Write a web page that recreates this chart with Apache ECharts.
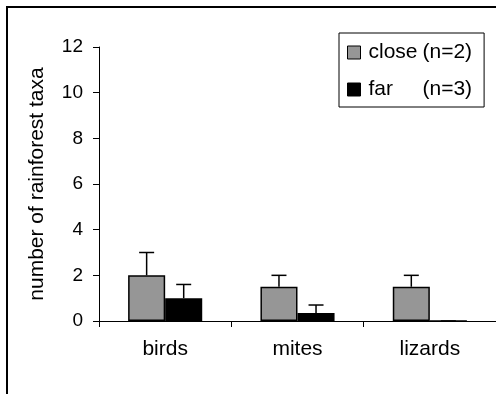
<!DOCTYPE html>
<html>
<head>
<meta charset="utf-8">
<script src="https://cdn.jsdelivr.net/npm/echarts@6/dist/echarts.min.js"></script>
<style>
html,body{margin:0;padding:0;background:#fff;}
#chart{width:496px;height:394px;}
</style>
</head>
<body>
<div id="chart"></div>
<script>
const categories = ['birds', 'mites', 'lizards'];
const closeValues = [2, 1.5, 1.5];
const closeErrors = [1, 0.5, 0.5];
const farValues = [1, 0.35, 0];
const farErrors = [0.6, 0.35, 0];
const seriesNames = ['close', 'far'];
const seriesN = ['(n=2)', '(n=3)'];
const yTicks = [0, 2, 4, 6, 8, 10, 12];

const FONT = 'Liberation Sans, Arial, sans-serif';
const BAR_W = 0.28; // fraction of category band

function errSeries(values, errors, side) {
  return {
    type: 'custom',
    silent: true,
    z: 1,
    data: values.map((v, i) => [i, v, errors[i]]),
    encode: { x: 0, y: 1 },
    renderItem: function (params, api) {
      const ci = api.value(0);
      const v = api.value(1);
      const e = api.value(2);
      const band = api.size([1, 0])[0];
      const base = api.coord([ci, v]);
      const top = api.coord([ci, v + e]);
      const x = base[0] + side * band * BAR_W / 2;
      const capHalf = 7.5;
      const style = { stroke: '#000', lineWidth: 1.5 };
      return {
        type: 'group',
        children: [
          { type: 'line', shape: { x1: x, y1: base[1], x2: x, y2: top[1] }, style: style },
          { type: 'line', shape: { x1: x - capHalf, y1: top[1], x2: x + capHalf, y2: top[1] }, style: style }
        ]
      };
    }
  };
}

const chart = echarts.init(document.getElementById('chart'), null, { renderer: 'canvas' });
chart.setOption({
  animation: false,
  backgroundColor: '#fff',
  textStyle: { fontFamily: FONT },
  graphic: [{
    type: 'rect',
    shape: { x: 7, y: 7, width: 540, height: 440 },
    style: { fill: 'none', stroke: '#000', lineWidth: 2 },
    silent: true
  }],
  grid: { left: 99, top: 47, right: -8, bottom: 73, containLabel: false },
  legend: {
    orient: 'vertical',
    left: 339,
    top: 33,
    padding: [9, 12, 7, 8],
    itemGap: 16,
    itemWidth: 13,
    itemHeight: 13,
    icon: 'rect',
    borderColor: '#000',
    borderWidth: 1,
    data: seriesNames.map((n, i) => ({
      name: n,
      itemStyle: { color: i === 0 ? '#969696' : '#000', borderColor: '#000', borderWidth: 1 }
    })),
    formatter: function (name) {
      const i = seriesNames.indexOf(name);
      return '{a|' + name + '}{b|' + seriesN[i] + '}';
    },
    textStyle: {
      fontFamily: FONT,
      rich: {
        a: { width: 54, fontSize: 21, lineHeight: 22, color: '#000', padding: [0, 0, 0, 3], fontFamily: FONT },
        b: { fontSize: 21, lineHeight: 22, color: '#000', fontFamily: FONT }
      }
    }
  },
  xAxis: {
    type: 'category',
    data: categories,
    axisLine: { lineStyle: { color: '#000', width: 1 } },
    axisTick: { show: true, length: 6, inside: false, alignWithLabel: false, lineStyle: { color: '#000' } },
    axisLabel: { color: '#000', fontSize: 21, margin: 18, fontFamily: FONT },
    splitLine: { show: false }
  },
  yAxis: {
    type: 'value',
    min: yTicks[0],
    max: yTicks[yTicks.length - 1],
    interval: yTicks[1] - yTicks[0],
    name: 'number of rainforest taxa',
    nameLocation: 'middle',
    nameGap: 51,
    nameTextStyle: { color: '#000', fontSize: 21, fontFamily: FONT },
    axisLine: { show: true, lineStyle: { color: '#000', width: 1 } },
    axisTick: { show: true, length: 6, lineStyle: { color: '#000' } },
    axisLabel: { color: '#000', fontSize: 19, margin: 16, fontFamily: FONT },
    splitLine: { show: false }
  },
  series: [
    {
      name: seriesNames[0],
      type: 'bar',
      data: closeValues,
      barWidth: (BAR_W * 100) + '%',
      barGap: '0%',
      z: 2,
      itemStyle: { color: '#969696', borderColor: '#000', borderWidth: 1.5 }
    },
    {
      name: seriesNames[1],
      type: 'bar',
      data: farValues,
      barWidth: (BAR_W * 100) + '%',
      barGap: '0%',
      z: 2,
      itemStyle: { color: '#000', borderColor: '#000', borderWidth: 1.5 }
    },
    errSeries(closeValues, closeErrors, -1),
    errSeries(farValues, farErrors, 1)
  ]
});
</script>
</body>
</html>
